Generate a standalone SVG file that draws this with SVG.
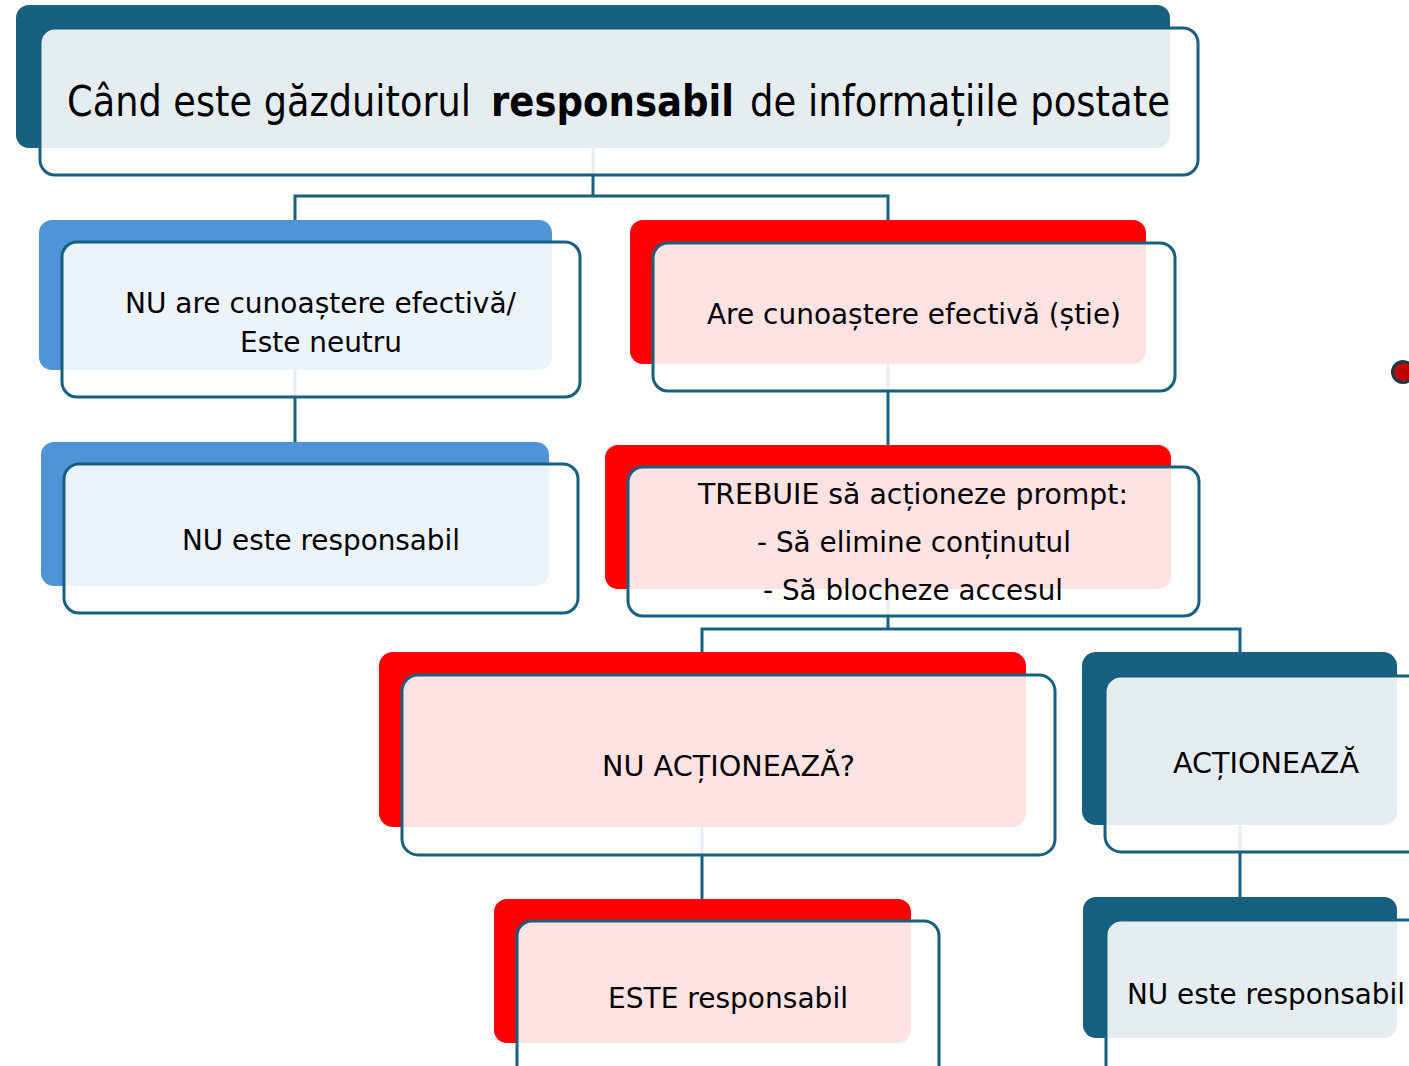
<svg xmlns="http://www.w3.org/2000/svg" width="1409" height="1066" viewBox="0 0 1409 1066">
<style>
.back-dark{fill:#17607f}
.back-blue{fill:#4f94d9}
.back-red{fill:#ff0000}
.frame{fill:#ffffff;fill-opacity:0.89;stroke:#17607f;stroke-width:3}
.conn{fill:none;stroke:#17607f;stroke-width:3}
.t{font-family:"DejaVu Sans","Liberation Sans",sans-serif;font-size:28px;fill:#000000;text-anchor:middle}
.title{font-family:"DejaVu Sans","Liberation Sans",sans-serif;font-size:43px;fill:#000000}
</style>
<rect width="1409" height="1066" fill="#ffffff"/>
<g id="connectors">
<path class="conn" d="M593 148V196M295 196H888M295 194.5V222M888 194.5V222"/>
<path class="conn" d="M295 368V444"/>
<path class="conn" d="M888 362V447"/>
<path class="conn" d="M888 587V629M702 629H1240M702 627.5V654M1240 627.5V654"/>
<path class="conn" d="M702 825V901"/>
<path class="conn" d="M1240 823V899"/>
</g>
<g id="node-title">
<rect class="back-dark" x="16" y="5" width="1154" height="143" rx="13"/>
<rect class="frame" x="40" y="28" width="1158" height="147" rx="15"/>
<text class="title" x="67" y="116" textLength="404" lengthAdjust="spacingAndGlyphs">Când este găzduitorul</text>
<text class="title" x="491" y="116" font-weight="bold" textLength="243" lengthAdjust="spacingAndGlyphs">responsabil</text>
<text class="title" x="750" y="116" textLength="420" lengthAdjust="spacingAndGlyphs">de informațiile postate</text>
</g>
<g id="node-no-knowledge">
<rect class="back-blue" x="39" y="220" width="513" height="150" rx="13"/>
<rect class="frame" x="62" y="242" width="518" height="155" rx="15"/>
<text class="t" x="320.5" y="313" textLength="391" lengthAdjust="spacingAndGlyphs">NU are cunoaștere efectivă/</text>
<text class="t" x="321" y="352" textLength="162" lengthAdjust="spacingAndGlyphs">Este neutru</text>
</g>
<g id="node-knowledge">
<rect class="back-red" x="630" y="220" width="516" height="144" rx="13"/>
<rect class="frame" x="653" y="243" width="522" height="148" rx="15"/>
<text class="t" x="914" y="324" textLength="414" lengthAdjust="spacingAndGlyphs">Are cunoaștere efectivă (știe)</text>
</g>
<g id="node-not-responsible-left">
<rect class="back-blue" x="41" y="442" width="508" height="144" rx="13"/>
<rect class="frame" x="64" y="464" width="514" height="149" rx="15"/>
<text class="t" x="321" y="550" textLength="278" lengthAdjust="spacingAndGlyphs">NU este responsabil</text>
</g>
<g id="node-must-act">
<rect class="back-red" x="605" y="445" width="566" height="144" rx="13"/>
<rect class="frame" x="628" y="467" width="571" height="149" rx="15"/>
<text class="t" x="913" y="504" textLength="430" lengthAdjust="spacingAndGlyphs">TREBUIE să acționeze prompt:</text>
<text class="t" x="914" y="552" textLength="314" lengthAdjust="spacingAndGlyphs">- Să elimine conținutul</text>
<text class="t" x="913" y="600" textLength="300" lengthAdjust="spacingAndGlyphs">- Să blocheze accesul</text>
</g>
<g id="node-does-not-act">
<rect class="back-red" x="379" y="652" width="647" height="175" rx="14"/>
<rect class="frame" x="402" y="675" width="653" height="180" rx="16"/>
<text class="t" x="728.5" y="776" textLength="253" lengthAdjust="spacingAndGlyphs">NU ACȚIONEAZĂ?</text>
</g>
<g id="node-acts">
<rect class="back-dark" x="1082" y="652" width="315" height="173" rx="14"/>
<rect class="frame" x="1105" y="676" width="330" height="176" rx="16"/>
<text class="t" x="1266" y="773" textLength="186" lengthAdjust="spacingAndGlyphs">ACȚIONEAZĂ</text>
</g>
<g id="node-responsible">
<rect class="back-red" x="494" y="899" width="417" height="144" rx="13"/>
<rect class="frame" x="517" y="921" width="422" height="160" rx="15"/>
<text class="t" x="728" y="1008" textLength="240" lengthAdjust="spacingAndGlyphs">ESTE responsabil</text>
</g>
<g id="node-not-responsible-right">
<rect class="back-dark" x="1083" y="897" width="314" height="141" rx="13"/>
<rect class="frame" x="1106" y="920" width="330" height="160" rx="15"/>
<text class="t" x="1266" y="1004" textLength="278" lengthAdjust="spacingAndGlyphs">NU este responsabil</text>
</g>
<g id="edge-icon">
<circle cx="1403" cy="372" r="10.5" fill="#c00000" stroke="#17374a" stroke-width="3"/>
</g>
</svg>
